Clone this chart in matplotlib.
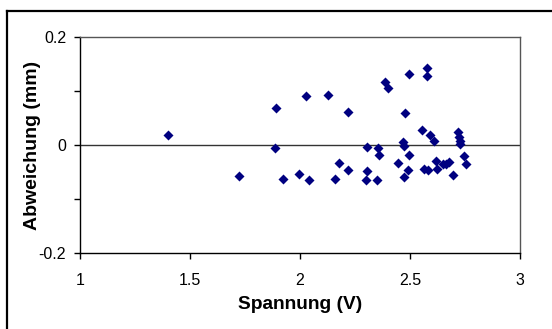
import matplotlib
matplotlib.use("Agg")
import matplotlib.pyplot as plt
from matplotlib.lines import Line2D
from matplotlib.ticker import FixedFormatter, FixedLocator

# Spannung (V) und Abweichung (mm)
spannung = [1.401, 1.724, 1.889, 1.886, 1.921, 1.995, 2.026, 2.040, 2.126, 2.159,
            2.177, 2.220, 2.217, 2.299, 2.303, 2.303, 2.348, 2.353, 2.360, 2.388,
            2.400, 2.447, 2.467, 2.473, 2.471, 2.476, 2.494, 2.492, 2.497, 2.556,
            2.565, 2.579, 2.579, 2.583, 2.591, 2.608, 2.618, 2.621, 2.651, 2.664,
            2.679, 2.694, 2.720, 2.723, 2.726, 2.729, 2.747, 2.755]
abweichung = [0.019, -0.058, 0.068, -0.006, -0.063, -0.054, 0.090, -0.064, 0.092, -0.062,
              -0.033, 0.061, -0.046, -0.064, -0.003, -0.048, -0.064, -0.006, -0.019, 0.116,
              0.105, -0.034, 0.006, -0.002, -0.060, 0.060, 0.132, -0.047, -0.019, 0.027,
              -0.044, 0.142, 0.128, -0.047, 0.019, 0.007, -0.030, -0.044, -0.036, -0.035,
              -0.031, -0.055, 0.024, 0.015, 0.008, 0.002, -0.021, -0.035]

x_ticks = [1, 1.5, 2, 2.5, 3]
x_labels = ['1', '1.5', '2', '2.5', '3']
y_ticks = [-0.2, -0.1, 0, 0.1, 0.2]
y_labels = ['-0.2', '', '0', '', '0.2']

plt.rcParams['font.family'] = ['Liberation Sans', 'DejaVu Sans']

W, H = 552, 329
fig = plt.figure(figsize=(W / 100, H / 100), dpi=100)
ax = fig.add_axes([80 / W, 1 - 253.3 / H, 440 / W, 216.6 / H])

ax.scatter(spannung, abweichung, marker='D', s=26, color='#000080', linewidths=0, zorder=3)
ax.axhline(0, color='#333333', lw=1.0, zorder=2)

ax.set_xlim(1, 3)
ax.set_ylim(-0.2, 0.2)
ax.xaxis.set_major_locator(FixedLocator(x_ticks))
ax.xaxis.set_major_formatter(FixedFormatter(x_labels))
ax.yaxis.set_major_locator(FixedLocator(y_ticks))
ax.yaxis.set_major_formatter(FixedFormatter(y_labels))
ax.tick_params(direction='out', length=4, width=1, labelsize=11.5, color='black')
ax.tick_params(axis='x', pad=10)
ax.tick_params(axis='y', pad=6)

for side in ['top', 'right']:
    ax.spines[side].set_color('#555555')
for side in ['left', 'bottom']:
    ax.spines[side].set_color('black')
for sp in ax.spines.values():
    sp.set_linewidth(1.0)

ax.set_xlabel('Spannung (V)', fontsize=13.8, fontweight='bold', labelpad=6)
ax.set_ylabel('Abweichung (mm)', fontsize=14, fontweight='bold')
ax.yaxis.set_label_coords(-39 / 440, 0.5)

# aeusserer Diagrammrahmen (rechts/unten abgeschnitten)
fx, fy = 7 / W, 1 - 11 / H
fig.add_artist(Line2D([fx, fx], [0, fy], transform=fig.transFigure, color='black', lw=1.6))
fig.add_artist(Line2D([fx, 1], [fy, fy], transform=fig.transFigure, color='black', lw=1.6))

fig.savefig('out.png', dpi=100)
